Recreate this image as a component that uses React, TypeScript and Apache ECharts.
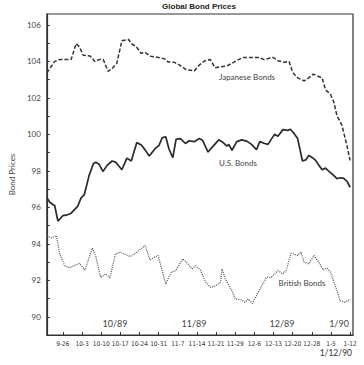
import React, { useEffect, useRef } from "react";
import * as echarts from "echarts";

const weekLabels = ["9-26", "10-3", "10-10", "10-17", "10-24", "10-31", "11-7", "11-14", "11-21", "11-29", "12-6", "12-13", "12-20", "12-28", "1-5", "1-12"];
const weekTicks = weekLabels.map((_, i) => i);
const yTicks = [90, 91, 92, 93, 94, 95, 96, 97, 98, 99, 100, 101, 102, 103, 104, 105, 106];
const yLabels = [90, 92, 94, 96, 98, 100, 102, 104, 106];

// [week offset from 9-26, price]
const japaneseBonds: [number, number][] = [
  [-0.84, 103.37], [-0.43, 104.0], [-0.17, 104.1], [0.43, 104.1], [0.69, 104.98], [0.86, 104.8],
  [1.06, 104.34], [1.42, 104.3], [1.67, 104.0], [1.89, 104.1], [2.11, 104.1], [2.35, 103.46],
  [2.56, 103.6], [2.81, 103.88], [3.08, 105.13], [3.43, 105.2], [3.58, 104.97], [3.84, 104.8],
  [4.08, 104.45], [4.29, 104.5], [4.55, 104.29], [5.06, 104.2], [5.32, 104.14], [5.49, 103.97],
  [5.83, 103.95], [6.09, 103.8], [6.43, 103.55], [6.86, 103.48], [7.12, 103.8], [7.42, 104.04],
  [7.7, 104.1], [7.95, 103.65], [8.21, 103.7], [8.57, 103.75], [8.83, 103.9], [9.17, 104.1],
  [9.43, 104.22], [10.2, 104.22], [10.52, 104.1], [10.97, 104.22], [11.23, 104.04], [11.55, 103.95],
  [11.81, 104.0], [12.0, 103.4], [12.26, 103.1], [12.6, 102.93], [12.84, 103.1], [13.08, 103.3],
  [13.29, 103.2], [13.54, 103.1], [13.71, 102.45], [13.97, 102.2], [14.14, 101.8], [14.31, 101.04],
  [14.57, 100.5], [14.83, 99.4], [15.0, 98.57],
];

const usBonds: [number, number][] = [
  [-0.84, 96.52], [-0.68, 96.28], [-0.51, 96.14], [-0.43, 96.1], [-0.26, 95.24], [0.0, 95.55],
  [0.17, 95.57], [0.43, 95.68], [0.77, 96.05], [0.95, 96.52], [1.12, 96.7], [1.37, 97.75],
  [1.59, 98.39], [1.72, 98.48], [1.89, 98.36], [2.09, 97.97], [2.31, 98.3], [2.57, 98.54],
  [2.75, 98.48], [2.92, 98.27], [3.08, 98.06], [3.34, 98.7], [3.57, 98.54], [3.86, 99.55],
  [4.11, 99.4], [4.29, 99.15], [4.51, 98.81], [4.8, 99.2], [5.02, 99.4], [5.19, 99.82],
  [5.37, 99.87], [5.54, 99.2], [5.74, 98.72], [5.91, 99.73], [6.14, 99.77], [6.4, 99.5],
  [6.6, 99.65], [6.86, 99.6], [7.12, 99.77], [7.29, 99.68], [7.58, 99.03], [7.8, 99.3],
  [8.14, 99.7], [8.31, 99.6], [8.57, 99.35], [8.66, 99.45], [8.83, 99.13], [9.08, 99.6],
  [9.34, 99.7], [9.6, 99.63], [9.85, 99.45], [10.11, 99.16], [10.28, 99.6], [10.54, 99.5],
  [10.71, 99.45], [11.05, 100.0], [11.23, 99.9], [11.49, 100.26], [11.74, 100.22], [11.88, 100.28],
  [12.08, 100.04], [12.26, 99.77], [12.51, 98.54], [12.68, 98.6], [12.85, 98.85], [13.03, 98.72],
  [13.2, 98.57], [13.37, 98.3], [13.54, 98.06], [13.71, 98.15], [13.88, 97.99], [14.14, 97.75],
  [14.31, 97.57], [14.48, 97.62], [14.65, 97.6], [14.83, 97.44], [15.0, 97.1],
];

const britishBonds: [number, number][] = [
  [-0.84, 94.45], [-0.6, 94.32], [-0.34, 94.45], [-0.17, 93.45], [0.09, 92.8], [0.34, 92.69],
  [0.6, 92.8], [0.86, 92.93], [1.15, 92.56], [1.54, 93.77], [1.72, 93.3], [1.97, 92.16],
  [2.23, 92.35], [2.45, 92.13], [2.75, 93.45], [3.0, 93.54], [3.52, 93.3], [3.86, 93.54],
  [4.29, 93.9], [4.55, 93.12], [4.8, 93.27], [4.97, 93.36], [5.37, 91.8], [5.66, 92.44],
  [5.88, 92.53], [6.26, 93.17], [6.51, 92.93], [6.74, 92.62], [6.94, 92.8], [7.2, 92.53],
  [7.46, 91.89], [7.71, 91.61], [7.97, 91.7], [8.23, 91.89], [8.31, 92.62], [8.48, 92.07],
  [8.83, 91.43], [9.0, 90.97], [9.34, 90.92], [9.51, 90.79], [9.69, 90.97], [9.89, 90.73],
  [10.2, 91.34], [10.63, 92.16], [10.88, 92.16], [11.23, 92.53], [11.49, 92.35], [11.66, 92.53],
  [11.91, 93.48], [12.26, 93.36], [12.43, 93.54], [12.6, 92.99], [12.85, 92.9], [13.11, 93.36],
  [13.37, 92.99], [13.59, 92.56], [13.8, 92.67], [13.97, 92.44], [14.23, 91.7], [14.48, 90.88],
  [14.74, 90.79], [15.0, 90.97],
];

const monthLabels = ["10/89", "11/89", "12/89", "1/90"];
const seriesNames = ["Japanese Bonds", "U.S. Bonds", "British Bonds"];

const FONT = "Lato, 'Open Sans', sans-serif";
const INK = "#333";

export default function App() {
  const ref = useRef<HTMLDivElement>(null);
  useEffect(() => {
    if (!ref.current) return;
    const chart = echarts.init(ref.current, undefined, { renderer: "svg" });
    const monthPos = [115, 194, 282, 339];
    const namePos = [
      [247, 77],
      [238, 163],
      [302, 283],
    ];
    chart.setOption({
      animation: false,
      backgroundColor: "#fff",
      grid: {
        left: 42,
        right: 11,
        top: 14,
        bottom: 30,
        show: true,
        borderColor: INK,
        borderWidth: 1.2,
        backgroundColor: "transparent",
      },
      xAxis: {
        type: "value",
        min: -0.84,
        max: 15.15,
        splitLine: { show: false },
        axisLine: { show: true, onZero: false, lineStyle: { color: INK, width: 1.2 } },
        axisTick: { show: true, inside: true, length: 3, customValues: weekTicks, lineStyle: { color: INK } },
        axisLabel: {
          customValues: weekTicks,
          formatter: (v: number) => weekLabels[Math.round(v)] ?? "",
          fontSize: 6.5,
          fontFamily: "'Liberation Sans Narrow', 'DejaVu Sans Condensed', sans-serif",
          color: "#333",
          margin: 5,
        },
      },
      yAxis: {
        type: "value",
        min: 89,
        max: 106.6,
        name: "Bond Prices",
        nameLocation: "middle",
        nameGap: 27,
        nameTextStyle: { fontSize: 8, fontFamily: FONT, color: "#444" },
        splitLine: { show: false },
        axisLine: { show: true, onZero: false, lineStyle: { color: INK, width: 1.2 } },
        axisTick: { show: true, inside: true, length: 3, customValues: yTicks, lineStyle: { color: INK } },
        axisLabel: {
          customValues: yLabels,
          fontSize: 8,
          fontFamily: FONT,
          color: "#444",
          margin: 6,
        },
      },
      graphic: [
        {
          type: "text",
          x: 199,
          y: 6,
          style: {
            text: "Global Bond Prices",
            fontSize: 8,
            fontWeight: "bold",
            fontFamily: "'Liberation Sans', Arial, sans-serif",
            fill: "#222",
            textAlign: "center",
            textVerticalAlign: "middle",
          },
        },
        ...monthLabels.map((t, i) => ({
          type: "text",
          x: monthPos[i],
          y: 323,
          style: { text: t, fontSize: 9, fontFamily: FONT, fill: "#444", textAlign: "center", textVerticalAlign: "middle" },
        })),
        ...seriesNames.map((t, i) => ({
          type: "text",
          x: namePos[i][0],
          y: namePos[i][1],
          style: { text: t, fontSize: 8, fontFamily: FONT, fill: "#444", textAlign: "center", textVerticalAlign: "middle" },
        })),
        {
          type: "text",
          x: 352,
          y: 353,
          style: { text: "1/12/90", fontSize: 8.5, fontFamily: FONT, fill: "#333", textAlign: "right", textVerticalAlign: "middle" },
        },
      ],
      series: [
        {
          name: seriesNames[0],
          type: "line",
          data: japaneseBonds,
          showSymbol: false,
          lineStyle: { color: INK, width: 1.5, type: [4, 2] },
        },
        {
          name: seriesNames[1],
          type: "line",
          data: usBonds,
          showSymbol: false,
          lineStyle: { color: "#2a2a2a", width: 1.7 },
        },
        {
          name: seriesNames[2],
          type: "line",
          data: britishBonds,
          showSymbol: false,
          lineStyle: { color: "#555", width: 1.3, type: [1, 1.2] },
        },
      ],
    });
    return () => chart.dispose();
  }, []);
  return <div ref={ref} style={{ position: "absolute", left: 0, top: 0, width: 364, height: 365 }} />;
}
